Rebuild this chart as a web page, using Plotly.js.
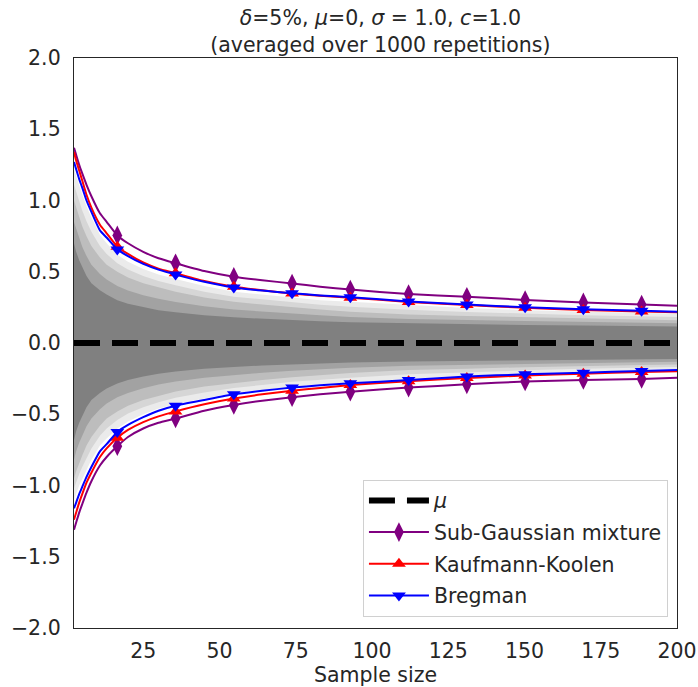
<!DOCTYPE html>
<html>
<head>
<meta charset="utf-8">
<script src="https://cdn.plot.ly/plotly-3.0.1.min.js"></script>
<style>html,body{margin:0;padding:0;background:#fff;}#chart{width:698px;height:687px;}</style>
</head>
<body>
<div id="chart"></div>
<script>
const sampleSize = [2.3, 3, 4, 5, 6.4, 8, 10.8, 13, 16.5, 20, 25, 30, 35.6, 45, 54.7, 64, 73.8, 83, 92.9, 112, 131.1, 150.2, 169.3, 188.4, 200];
// Sample sizes carrying a marker
const markerSize = [16.5, 35.6, 54.7, 73.8, 92.9, 112, 131.1, 150.2, 169.3, 188.4];

// Upper / lower confidence bounds
const subGaussUpper = [1.37, 1.32, 1.25, 1.19, 1.11, 1.03, 0.91, 0.85, 0.755, 0.70, 0.64, 0.595, 0.56, 0.505, 0.465, 0.44, 0.418, 0.395, 0.375, 0.343, 0.325, 0.302, 0.285, 0.27, 0.262];
const subGaussLower = [-1.31, -1.26, -1.19, -1.13, -1.05, -0.97, -0.86, -0.80, -0.725, -0.66, -0.60, -0.56, -0.53, -0.475, -0.435, -0.405, -0.38, -0.36, -0.342, -0.313, -0.29, -0.27, -0.26, -0.252, -0.243];
const kkUpper = [1.34, 1.28, 1.21, 1.14, 1.04, 0.95, 0.83, 0.77, 0.676, 0.625, 0.565, 0.522, 0.49, 0.435, 0.395, 0.37, 0.347, 0.332, 0.318, 0.288, 0.266, 0.247, 0.232, 0.221, 0.215];
const kkLower = [-1.24, -1.19, -1.12, -1.06, -0.98, -0.91, -0.80, -0.74, -0.665, -0.61, -0.555, -0.515, -0.48, -0.43, -0.39, -0.36, -0.335, -0.315, -0.295, -0.268, -0.245, -0.228, -0.215, -0.204, -0.198];
const bregUpper = [1.27, 1.22, 1.15, 1.09, 1.00, 0.92, 0.79, 0.74, 0.657, 0.61, 0.555, 0.515, 0.48, 0.43, 0.39, 0.368, 0.349, 0.334, 0.321, 0.292, 0.27, 0.251, 0.237, 0.226, 0.22];
const bregLower = [-1.16, -1.12, -1.06, -1.01, -0.94, -0.87, -0.76, -0.71, -0.625, -0.575, -0.52, -0.475, -0.44, -0.40, -0.36, -0.335, -0.313, -0.297, -0.283, -0.26, -0.235, -0.22, -0.208, -0.197, -0.19];

// Envelopes of the cloud of sample-mean paths, from faintest (outer) to densest (inner)
const cloudUpper = [
  [1.22, 1.17, 1.10, 1.04, 0.96, 0.88, 0.76, 0.70, 0.62, 0.57, 0.52, 0.48, 0.45, 0.40, 0.36, 0.34, 0.32, 0.30, 0.29, 0.265, 0.245, 0.23, 0.22, 0.21, 0.205],
  [1.11, 1.06, 0.99, 0.93, 0.855, 0.78, 0.68, 0.625, 0.56, 0.515, 0.47, 0.435, 0.405, 0.36, 0.325, 0.305, 0.285, 0.268, 0.255, 0.233, 0.218, 0.205, 0.195, 0.188, 0.183],
  [1.0, 0.95, 0.88, 0.82, 0.75, 0.68, 0.60, 0.55, 0.50, 0.46, 0.42, 0.39, 0.36, 0.32, 0.29, 0.27, 0.25, 0.235, 0.22, 0.20, 0.19, 0.18, 0.17, 0.165, 0.16],
  [0.85, 0.80, 0.73, 0.675, 0.61, 0.55, 0.485, 0.445, 0.40, 0.368, 0.335, 0.31, 0.288, 0.258, 0.235, 0.22, 0.205, 0.194, 0.183, 0.169, 0.161, 0.154, 0.146, 0.142, 0.138],
  [0.70, 0.64, 0.58, 0.53, 0.47, 0.42, 0.37, 0.34, 0.30, 0.275, 0.25, 0.23, 0.215, 0.195, 0.18, 0.17, 0.16, 0.152, 0.146, 0.138, 0.132, 0.127, 0.122, 0.118, 0.115]
];
const cloudLower = [
  [-1.10, -1.06, -1.00, -0.95, -0.89, -0.82, -0.72, -0.67, -0.60, -0.55, -0.50, -0.46, -0.43, -0.39, -0.35, -0.33, -0.305, -0.29, -0.275, -0.25, -0.228, -0.213, -0.202, -0.19, -0.185],
  [-1.02, -0.98, -0.92, -0.87, -0.805, -0.74, -0.65, -0.60, -0.54, -0.495, -0.45, -0.415, -0.385, -0.348, -0.315, -0.295, -0.272, -0.258, -0.243, -0.22, -0.204, -0.192, -0.181, -0.172, -0.168],
  [-0.95, -0.90, -0.84, -0.79, -0.72, -0.66, -0.58, -0.53, -0.48, -0.44, -0.40, -0.37, -0.34, -0.305, -0.28, -0.26, -0.24, -0.225, -0.21, -0.19, -0.18, -0.17, -0.16, -0.155, -0.15],
  [-0.82, -0.76, -0.70, -0.65, -0.585, -0.53, -0.465, -0.425, -0.38, -0.35, -0.318, -0.292, -0.27, -0.243, -0.224, -0.209, -0.195, -0.184, -0.174, -0.16, -0.153, -0.145, -0.139, -0.135, -0.131],
  [-0.68, -0.62, -0.56, -0.51, -0.45, -0.40, -0.35, -0.32, -0.285, -0.26, -0.235, -0.215, -0.20, -0.18, -0.168, -0.158, -0.15, -0.143, -0.137, -0.13, -0.125, -0.12, -0.117, -0.114, -0.112]
];
const cloudColors = ['#ebebeb', '#d6d6d6', '#bdbdbd', '#a2a2a2', '#808080'];

const muValue = 0;
const seriesNames = ['Sub-Gaussian mixture', 'Kaufmann-Koolen', 'Bregman'];

function band(upper, lower, color) {
  return {
    x: sampleSize.concat(sampleSize.slice().reverse()),
    y: upper.concat(lower.slice().reverse()),
    type: 'scatter', mode: 'lines', fill: 'toself', fillcolor: color,
    line: {width: 0}, hoverinfo: 'skip', showlegend: false
  };
}
function pick(arr) {
  return markerSize.map(m => arr[sampleSize.indexOf(m)]);
}

const traces = cloudUpper.map((u, i) => band(u, cloudLower[i], cloudColors[i]));
traces.push({x: [sampleSize[0], sampleSize[sampleSize.length - 1]], y: [muValue, muValue], type: 'scatter', mode: 'lines',
  name: '<i>μ</i>', legendgroup: 'mu', line: {color: '#000', width: 6, dash: '26px,12px'}});

const specs = [
  {name: seriesNames[0], upper: subGaussUpper, lower: subGaussLower, color: '#800080', symbol: 'diamond-tall', size: 14},
  {name: seriesNames[1], upper: kkUpper, lower: kkLower, color: '#ff0000', symbol: 'triangle-up', size: 12},
  {name: seriesNames[2], upper: bregUpper, lower: bregLower, color: '#0000ff', symbol: 'triangle-down', size: 12}
];
specs.forEach(s => {
  [s.upper, s.lower].forEach(arr => {
    traces.push({x: sampleSize, y: arr, type: 'scatter', mode: 'lines',
      line: {color: s.color, width: 2, shape: 'spline', smoothing: 0.5},
      showlegend: false, legendgroup: s.name, hoverinfo: 'skip'});
    traces.push({x: markerSize, y: pick(arr), type: 'scatter', mode: 'markers',
      marker: {color: s.color, symbol: s.symbol, size: s.size, line: {width: 0}},
      showlegend: false, legendgroup: s.name});
  });
  traces.push({x: [null], y: [null], type: 'scatter', mode: 'lines+markers', name: s.name, legendgroup: s.name,
    line: {color: s.color, width: 2}, marker: {color: s.color, symbol: s.symbol, size: s.size}});
});

const FS = 20.5;
const font = {family: 'DejaVu Sans, sans-serif', size: FS, color: '#262626'};
const layout = {
  width: 698, height: 687,
  margin: {l: 74, r: 21, t: 58, b: 59},
  paper_bgcolor: '#fff', plot_bgcolor: '#fff',
  font: font,
  title: {text: '<i>δ</i>=5%, <i>μ</i>=0, <i>σ</i> = 1.0, <i>c</i>=1.0<br>(averaged over 1000 repetitions)',
    x: 0.545, xref: 'container', xanchor: 'center', y: 0.963, yref: 'container', yanchor: 'top',
    font: {family: font.family, size: FS, color: '#262626'}},
  xaxis: {range: [2.3, 200], tickvals: [25, 50, 75, 100, 125, 150, 175, 200], showgrid: false, zeroline: false,
    showline: true, mirror: true, linecolor: '#262626', linewidth: 1.2, ticks: '', ticklabelstandoff: 4,
    title: {text: 'Sample size', standoff: 0, font: {family: font.family, size: FS, color: '#262626'}},
    tickfont: {family: font.family, size: FS, color: '#262626'}},
  yaxis: {range: [-2, 2], tickvals: [-2, -1.5, -1, -0.5, 0, 0.5, 1, 1.5, 2], tickformat: '.1f', showgrid: false, zeroline: false,
    showline: true, mirror: true, linecolor: '#262626', linewidth: 1.2, ticks: '', ticklabelstandoff: 8,
    tickfont: {family: font.family, size: FS, color: '#262626'}},
  legend: {x: 0.985, xanchor: 'right', y: 0.02, yanchor: 'bottom', bgcolor: 'rgba(255,255,255,0.85)',
    bordercolor: '#d0d0d0', borderwidth: 1, font: {family: font.family, size: FS, color: '#262626'},
    traceorder: 'grouped', tracegroupgap: 2, itemwidth: 60},
  showlegend: true
};

Plotly.newPlot('chart', traces, layout, {displayModeBar: false, staticPlot: true});
</script>
</body>
</html>
